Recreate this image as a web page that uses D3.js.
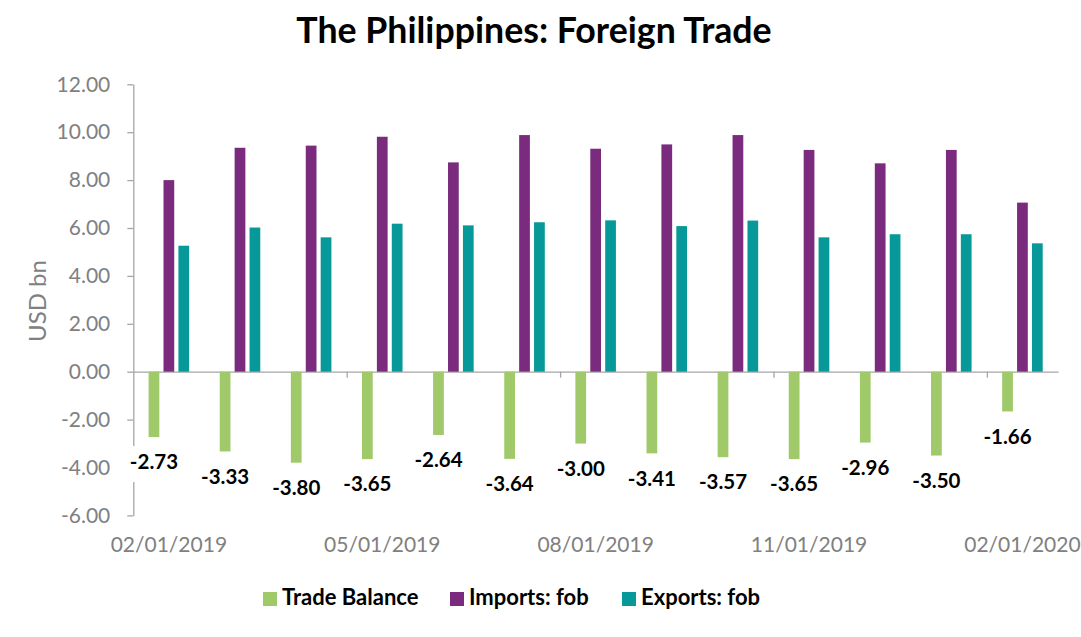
<!DOCTYPE html>
<html>
<head>
<meta charset="utf-8">
<script src="https://cdn.jsdelivr.net/npm/d3@7"></script>
<style>
  body { margin: 0; background: #fff; }
  text { font-family: Lato, 'Noto Sans', sans-serif; }
</style>
</head>
<body>
<svg id="chart" width="1081" height="637"></svg>
<script>
var months = ['02/01/2019','03/01/2019','04/01/2019','05/01/2019','06/01/2019','07/01/2019',
  '08/01/2019','09/01/2019','10/01/2019','11/01/2019','12/01/2019','01/01/2020','02/01/2020']
var tradeBalance = [-2.73,-3.33,-3.80,-3.65,-2.64,-3.64,-3.00,-3.41,-3.57,-3.65,-2.96,-3.50,-1.66]
var importsFob = [8.00,9.35,9.44,9.81,8.74,9.88,9.31,9.49,9.88,9.26,8.70,9.26,7.06]
var exportsFob = [5.26,6.02,5.61,6.18,6.11,6.24,6.32,6.08,6.31,5.61,5.74,5.74,5.36]
var seriesNames = ['Trade Balance','Imports: fob','Exports: fob']
var seriesColors = ['#a0c96a','#7a2b7e','#07999a']
var yTicks = [-6,-4,-2,0,2,4,6,8,10,12]
var xLabelMonths = ['02/01/2019','05/01/2019','08/01/2019','11/01/2019','02/01/2020']

var plot = { left: 133.3, right: 1058, top: 84.3, bottom: 515.4 }
var axisColor = '#a6a6a6'
var textGray = '#808080'

var svg = d3.select('#chart')
svg.append('rect').attr('width', 1081).attr('height', 637).attr('fill', '#fff')

var x0 = d3.scaleBand()
  .domain(months)
  .range([plot.left, plot.right])
  .paddingInner(0.43)
  .paddingOuter(0.215)

var x1 = d3.scaleBand()
  .domain(seriesNames)
  .range([0, x0.bandwidth()])
  .paddingInner(0.28)

var y = d3.scaleLinear()
  .domain([-6, 12])
  .range([plot.bottom, plot.top])

// category boundaries for the x tick marks
var xEdge = d3.scaleLinear().domain([0, months.length]).range([plot.left, plot.right])

// title
svg.append('text')
  .attr('x', 534)
  .attr('y', 43)
  .attr('text-anchor', 'middle')
  .style('font-size', '35.7px')
  .style('font-weight', 'bold')
  .attr('fill', '#000')
  .text('The Philippines: Foreign Trade')

// y axis
var yAxis = svg.append('g')
  .attr('transform', 'translate(' + plot.left + ',0)')
  .call(d3.axisLeft(y).tickValues(yTicks).tickSize(6).tickSizeOuter(0).tickPadding(17)
    .tickFormat(d3.format('.2f')))
yAxis.selectAll('path, line').attr('stroke', axisColor).attr('stroke-width', 1.3)
yAxis.selectAll('text')
  .style('font-size', '21px')
  .style('font-family', 'Lato, sans-serif')
  .attr('fill', textGray)
  .text(function(d) { return d3.format('.2f')(d).replace('−', '-') })

svg.append('text')
  .attr('transform', 'translate(40,' + 301 + ')rotate(-90)')
  .attr('text-anchor', 'middle')
  .attr('dominant-baseline', 'middle')
  .style('font-size', '24px')
  .attr('fill', textGray)
  .text('USD bn')

// x axis along zero
var xAxis = svg.append('g')
  .attr('transform', 'translate(0,' + y(0) + ')')
  .call(d3.axisBottom(xEdge).tickValues([3, 6, 9, 12]).tickSize(6).tickSizeOuter(0).tickFormat(''))
xAxis.selectAll('path, line').attr('stroke', axisColor).attr('stroke-width', 1.3)

// x labels sit below the plot
svg.append('g').selectAll('text')
  .data(xLabelMonths)
  .enter()
  .append('text')
  .attr('x', function(d) { return x0(d) + x0.bandwidth() / 2 })
  .attr('y', 547)
  .attr('text-anchor', 'middle')
  .attr('dominant-baseline', 'middle')
  .style('font-size', '21px')
  .attr('fill', textGray)
  .text(function(d) { return d })

// bars
var rows = months.map(function(m, i) {
  return { month: m, values: [tradeBalance[i], importsFob[i], exportsFob[i]] }
})

var groups = svg.append('g').selectAll('g')
  .data(rows)
  .enter()
  .append('g')
  .attr('transform', function(d) { return 'translate(' + x0(d.month) + ',0)' })

groups.selectAll('rect')
  .data(function(d) { return d.values.map(function(v, k) { return { name: seriesNames[k], value: v, k: k } }) })
  .enter()
  .append('rect')
  .attr('x', function(d) { return x1(d.name) })
  .attr('width', x1.bandwidth())
  .attr('y', function(d) { return y(Math.max(0, d.value)) })
  .attr('height', function(d) { return Math.abs(y(d.value) - y(0)) })
  .attr('fill', function(d) { return seriesColors[d.k] })

// data labels for the trade balance
var labels = svg.append('g').selectAll('g')
  .data(rows)
  .enter()
  .append('g')
  .attr('transform', function(d) {
    return 'translate(' + (x0(d.month) + x1(seriesNames[0]) + x1.bandwidth() / 2) + ',' + (y(d.values[0]) + 27) + ')'
  })

labels.each(function(d) {
  var g = d3.select(this)
  var bg = g.append('rect').attr('fill', '#fff')
  var t = g.append('text')
    .attr('text-anchor', 'middle')
    .attr('dominant-baseline', 'middle')
    .style('font-size', '20.5px')
    .style('font-weight', 'bold')
    .attr('fill', '#000')
    .text(d3.format('.2f')(d.values[0]).replace('−', '-'))
  var w = t.node().getComputedTextLength()
  bg.attr('x', -w / 2 - 4).attr('y', -18).attr('width', w + 8).attr('height', 36)
})

// legend
var legendX = [263, 450, 622]
var legend = svg.append('g').selectAll('g')
  .data(seriesNames)
  .enter()
  .append('g')
  .attr('transform', function(d, i) { return 'translate(' + legendX[i] + ',592)' })

legend.append('rect')
  .attr('width', 14)
  .attr('height', 14)
  .attr('fill', function(d, i) { return seriesColors[i] })

legend.append('text')
  .attr('x', 19)
  .attr('y', 7.5)
  .attr('dominant-baseline', 'middle')
  .style('font-size', '22px')
  .style('font-weight', 'bold')
  .attr('fill', '#000')
  .text(function(d) { return d })
</script>
</body>
</html>
